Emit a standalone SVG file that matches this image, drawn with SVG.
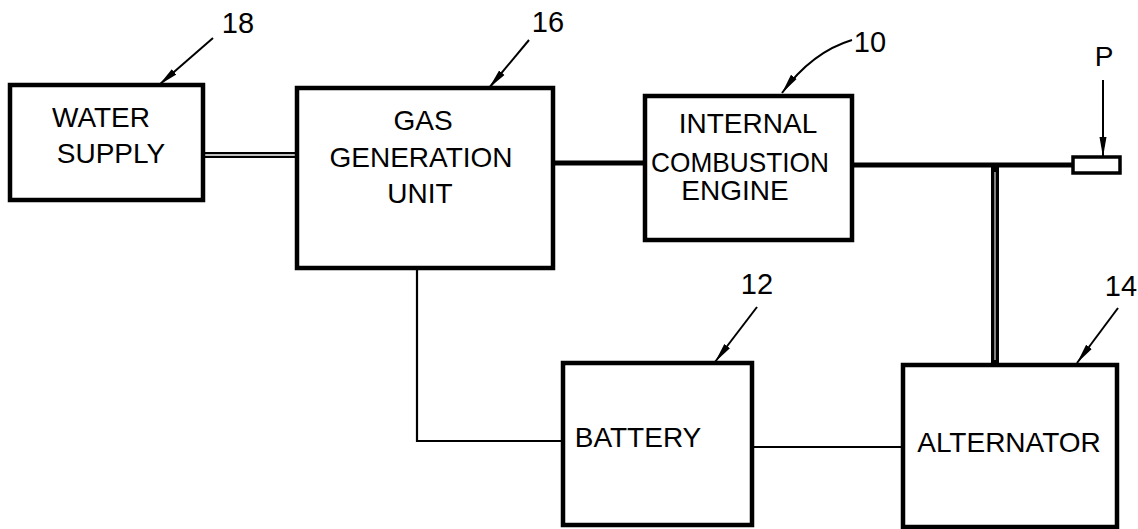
<svg xmlns="http://www.w3.org/2000/svg" width="1138" height="529" viewBox="0 0 1138 529">
<style>
.box{fill:#fff;stroke:#000;stroke-width:4.5}
.t{font-family:"Liberation Sans",Arial,sans-serif;font-size:28px;fill:#000;text-anchor:middle}
.n{font-family:"Liberation Sans",Arial,sans-serif;font-size:29px;fill:#000;text-anchor:middle}
.lead{fill:none;stroke:#000;stroke-width:2;marker-end:url(#ah)}
.thick{stroke:#000;stroke-width:5;fill:none}
.thin{stroke:#000;stroke-width:2.2;fill:none}
</style>
<defs>
<marker id="ah" markerWidth="22" markerHeight="10" refX="20" refY="5" orient="auto" markerUnits="userSpaceOnUse">
<path d="M0,1.5 L20,5 L0,8.5 Z" fill="#000"/>
</marker>
</defs>
<rect width="1138" height="529" fill="#fff"/>
<g id="connectors">
<line x1="202" y1="155" x2="297" y2="155" stroke="#000" stroke-width="6"/>
<line x1="202" y1="155" x2="297" y2="155" stroke="#fff" stroke-width="1.5"/>
<line class="thick" x1="553" y1="163" x2="645" y2="163"/>
<line class="thick" x1="852" y1="165" x2="1073" y2="165"/>
<line x1="995" y1="165" x2="995" y2="365" stroke="#000" stroke-width="8"/>
<line x1="995" y1="172" x2="995" y2="360" stroke="#fff" stroke-width="1"/>
<polyline class="thin" points="417,268 417,441 563,441"/>
<line class="thin" x1="752" y1="447" x2="903" y2="447"/>
</g>
<g id="water">
<rect class="box" x="10" y="85" width="193" height="115"/>
<text class="t" x="101" y="127">WATER</text>
<text class="t" x="111" y="163">SUPPLY</text>
</g>
<g id="gas">
<rect class="box" x="297" y="88" width="256" height="180"/>
<text class="t" x="423" y="130">GAS</text>
<text class="t" x="421" y="167">GENERATION</text>
<text class="t" x="420" y="203">UNIT</text>
</g>
<g id="engine">
<rect class="box" x="645" y="96" width="207" height="144"/>
<text class="t" x="748" y="133">INTERNAL</text>
<text class="t" x="740" y="172" textLength="178" lengthAdjust="spacingAndGlyphs">COMBUSTION</text>
<text class="t" x="735" y="200">ENGINE</text>
</g>
<g id="battery">
<rect class="box" x="563" y="363" width="189" height="162"/>
<text class="t" x="638" y="447">BATTERY</text>
</g>
<g id="alternator">
<rect class="box" x="903" y="365" width="214" height="162"/>
<text class="t" x="1009" y="452">ALTERNATOR</text>
</g>
<g id="p">
<rect x="1073" y="157" width="47" height="16" fill="#fff" stroke="#000" stroke-width="3.5"/>
<text class="t" x="1104" y="66">P</text>
<line class="lead" x1="1103" y1="80" x2="1103" y2="157"/>
</g>
<g id="labels">
<text class="n" x="238" y="33">18</text>
<line class="lead" x1="213" y1="38" x2="159" y2="85"/>
<text class="n" x="548" y="32">16</text>
<line class="lead" x1="529" y1="40" x2="489" y2="88"/>
<text class="n" x="870" y="52">10</text>
<path class="lead" d="M852,40 Q812,52 782,93"/>
<text class="n" x="757" y="294">12</text>
<line class="lead" x1="757" y1="307" x2="715" y2="362"/>
<text class="n" x="1121" y="296">14</text>
<line class="lead" x1="1118" y1="308" x2="1077" y2="363"/>
</g>
</svg>
